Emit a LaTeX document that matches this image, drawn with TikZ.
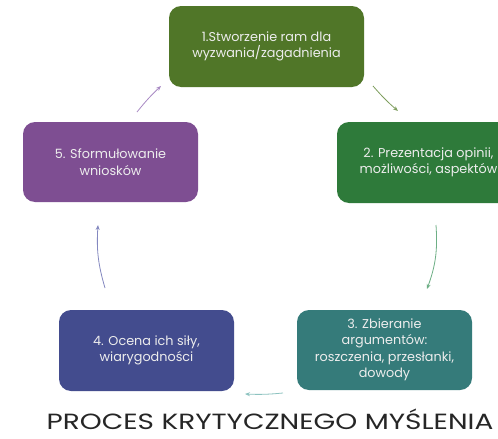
\documentclass[tikz,border=0pt]{standalone}
\usepackage{fontspec}
\setmainfont{Poppins}
\usetikzlibrary{arrows.meta}
\definecolor{cA}{HTML}{507628}
\definecolor{cB}{HTML}{2E7A3A}
\definecolor{cC}{HTML}{357B7A}
\definecolor{cD}{HTML}{434C8E}
\definecolor{cE}{HTML}{7E4E92}
\definecolor{aA}{HTML}{7E9E5E}
\definecolor{aB}{HTML}{6DAF85}
\definecolor{aC}{HTML}{8DC3C0}
\definecolor{aD}{HTML}{8488C0}
\definecolor{aE}{HTML}{A98AC4}
\definecolor{txt}{HTML}{EDEDED}
\tikzset{
  stepbox/.style={rounded corners=12pt, minimum width=195pt, minimum height=80pt,
    inner sep=0pt, text=txt, align=center, font=\fontsize{12.8}{16.5}\selectfont, draw=none},
  flowarrow/.style={line width=0.8pt, -{Stealth[length=5pt,width=4pt]}},
}
\begin{document}
\begin{tikzpicture}[x=1pt,y=-1pt]
\useasboundingbox (0,0) rectangle (498,439);
\clip (0,0) rectangle (498,439);
\fill[white] (0,0) rectangle (498,439);
\node[stepbox, fill=cA, minimum height=81pt] (b1) at (266.5,46.5) {1.Stworzenie ram dla\\wyzwania/zagadnienia};
\node[stepbox, fill=cB, minimum width=183pt, minimum height=81pt] (b2) at (428.5,162.5) {2. Prezentacja opinii,\\możliwości, aspektów};
\node[stepbox, fill=cC, minimum width=175pt] (b3) at (384.5,350) {3. Zbieranie\\argumentów:\\roszczenia, przesłanki,\\dowody};
\node[stepbox, fill=cD, minimum width=175pt, minimum height=81pt] (b4) at (146.5,350.5) {4. Ocena ich siły,\\wiarygodności};
\node[stepbox, fill=cE, minimum width=175pt] (b5) at (110.5,162) {5. Sformułowanie\\wniosków};
\coordinate (p1s) at (373,86);
\coordinate (p1e) at (398,111);
\coordinate (p2s) at (436,225);
\coordinate (p2e) at (427,289);
\coordinate (p3s) at (283,393);
\coordinate (p3e) at (245,394);
\coordinate (p4s) at (105,288);
\coordinate (p4e) at (98,225);
\coordinate (p5s) at (137,112);
\coordinate (p5e) at (161,86);
\draw[flowarrow, aA] (p1s) to[bend right=4] (p1e);
\draw[flowarrow, aB] (p2s) to[bend left=12] (p2e);
\draw[flowarrow, aC] (p3s) to[bend left=4] (p3e);
\draw[flowarrow, aD] (p4s) to[bend left=10] (p4e);
\draw[flowarrow, aE] (p5s) to[bend left=4] (p5e);
\node[font=\fontsize{22}{24}\selectfont, text=black!85, anchor=base, inner sep=0pt] (title) at (270,429) {\scalebox{1.27}[1]{PROCES KRYTYCZNEGO MYŚLENIA}};
\end{tikzpicture}
\end{document}
